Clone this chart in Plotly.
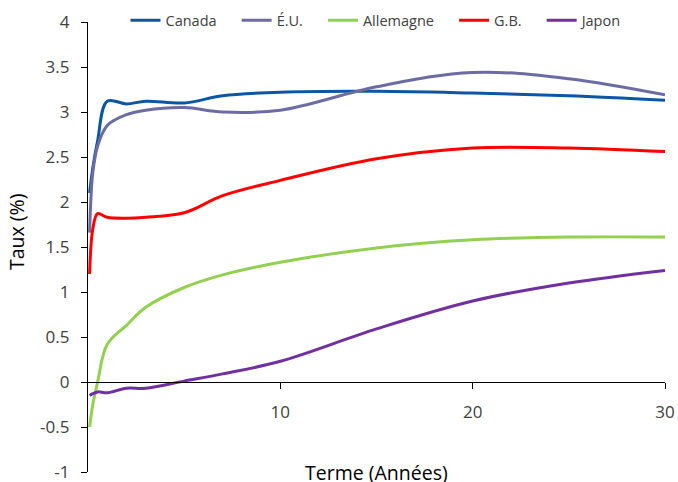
import plotly.graph_objects as go

# Term (years)
terms = [0.083, 0.25, 0.5, 1, 2, 3, 5, 7, 10, 15, 20, 25, 30]

canada = [2.10, 2.38, 2.68, 3.12, 3.09, 3.12, 3.10, 3.18, 3.22, 3.23, 3.21, 3.18, 3.13]
eu = [1.66, 2.33, 2.62, 2.85, 2.97, 3.02, 3.05, 3.00, 3.02, 3.28, 3.44, 3.37, 3.19]
allemagne = [-0.50, -0.25, 0.00, 0.42, 0.63, 0.83, 1.05, 1.19, 1.33, 1.49, 1.58, 1.61, 1.61]
gb = [1.20, 1.70, 1.87, 1.83, 1.82, 1.83, 1.88, 2.07, 2.24, 2.48, 2.60, 2.60, 2.56]
japon = [-0.15, -0.13, -0.11, -0.12, -0.07, -0.07, 0.01, 0.09, 0.23, 0.59, 0.90, 1.10, 1.24]

series_names = ["Canada", "É.U.", "Allemagne", "G.B.", "Japon"]
series_values = [canada, eu, allemagne, gb, japon]
series_colors = ["#0B57A4", "#6C6CA4", "#92D050", "#FF0000", "#7030A0"]

y_tick_vals = [-1, -0.5, 0, 0.5, 1, 1.5, 2, 2.5, 3, 3.5, 4]
y_tick_text = ["-1", "-0.5", "0", "0.5", "1", "1.5", "2", "2.5", "3", "3.5", "4"]
x_tick_vals = [10, 20, 30]
x_tick_text = ["10", "20", "30"]

FONT = "Open Sans"
TXT = "#404040"
PAD = "\u00a0" * 4

fig = go.Figure()
for i, (name, vals, col) in enumerate(zip(series_names, series_values, series_colors)):
    label = name + (PAD if i < len(series_names) - 1 else "")
    fig.add_trace(go.Scatter(
        x=terms, y=vals, name=label, mode="lines",
        line=dict(color=col, width=3, shape="spline", smoothing=1.0),
    ))

fig.update_layout(
    width=678, height=482,
    margin=dict(l=88, r=13, t=22, b=10, autoexpand=False),
    paper_bgcolor="white", plot_bgcolor="white",
    font=dict(family=FONT, color=TXT),
    showlegend=True,
    legend=dict(
        orientation="h", x=0.5, xanchor="center", y=1.004, yanchor="middle",
        font=dict(family=FONT, size=14.5, color=TXT),
        bgcolor="rgba(0,0,0,0)",
    ),
    xaxis=dict(
        range=[0, 30], anchor="free", position=0.2, automargin=False,
        tickvals=x_tick_vals, ticktext=x_tick_text,
        showgrid=False, zeroline=False,
        showline=True, linecolor="#000000", linewidth=1.3,
        ticks="outside", ticklen=6, tickcolor="#000000", tickwidth=1.3,
        tickfont=dict(family=FONT, size=17, color=TXT),
        ticklabelstandoff=8, ticklabeloverflow="allow",
    ),
    yaxis=dict(
        range=[-1, 4], automargin=False,
        tickvals=y_tick_vals, ticktext=y_tick_text,
        showgrid=False, zeroline=False,
        showline=True, linecolor="#000000", linewidth=1.3,
        ticks="outside", ticklen=6, tickcolor="#000000", tickwidth=1.3,
        tickfont=dict(family=FONT, size=17, color=TXT),
        ticklabelstandoff=8, ticklabeloverflow="allow",
    ),
    annotations=[
        dict(text="Terme (Années)", xref="paper", yref="paper", x=0.5, y=0,
             xanchor="center", yanchor="middle", yshift=0, showarrow=False,
             font=dict(family=FONT, size=19.5, color="#000000")),
        dict(text="Taux (%)", xref="paper", yref="paper", x=-0.125, y=0.533,
             xanchor="center", yanchor="middle", textangle=-90, showarrow=False,
             font=dict(family=FONT, size=19.5, color="#000000")),
    ],
)

fig.write_html(
    "out.html",
    config={"displayModeBar": False},
    post_script="document.body.style.margin='0';document.body.style.padding='0';"
                "document.body.style.overflow='hidden';",
)
